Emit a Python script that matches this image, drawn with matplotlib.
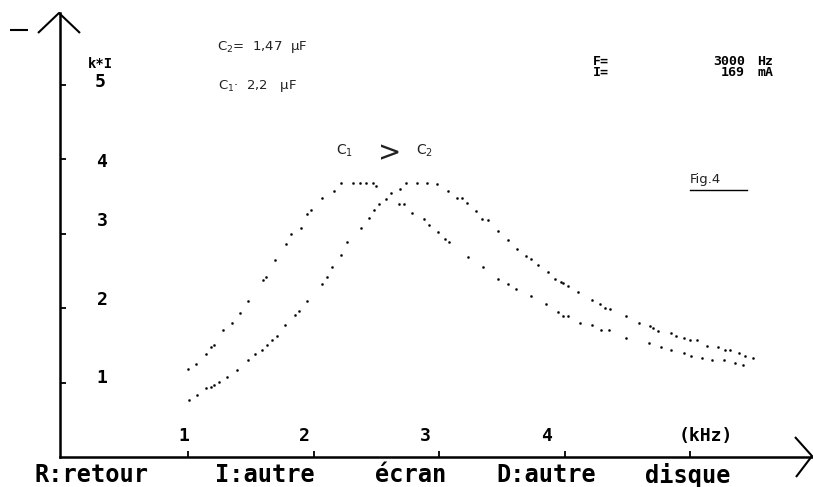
import matplotlib
matplotlib.use('Agg')
import matplotlib.pyplot as plt
from matplotlib.lines import Line2D

# frequency (kHz) and k*I readings, C1 = 2,2 uF, C2 = 1,47 uF
c1_f = [1.00, 1.06, 1.14, 1.18, 1.21, 1.28, 1.35, 1.41, 1.48, 1.60, 1.62, 1.69,
        1.78, 1.82, 1.90, 1.95, 1.98, 2.07, 2.16, 2.22, 2.31, 2.37, 2.42, 2.47,
        2.50, 2.68, 2.72, 2.78, 2.88, 2.92, 2.99, 3.05, 3.08, 3.23, 3.35, 3.47,
        3.55, 3.61, 3.73, 3.85, 3.95, 3.99, 4.03, 4.12, 4.22, 4.29, 4.35, 4.49,
        4.67, 4.77, 4.85, 4.95, 5.01, 5.09, 5.17, 5.27, 5.36, 5.42]
c1_v = [1.18, 1.25, 1.38, 1.47, 1.50, 1.70, 1.80, 1.93, 2.09, 2.37, 2.42, 2.64,
        2.86, 3.00, 3.08, 3.26, 3.31, 3.47, 3.57, 3.68, 3.68, 3.68, 3.68, 3.68,
        3.64, 3.40, 3.40, 3.28, 3.19, 3.12, 3.02, 2.92, 2.88, 2.68, 2.55, 2.39,
        2.32, 2.26, 2.16, 2.06, 1.94, 1.89, 1.89, 1.80, 1.77, 1.70, 1.70, 1.60,
        1.53, 1.47, 1.44, 1.40, 1.36, 1.33, 1.30, 1.30, 1.26, 1.23]

c2_f = [1.01, 1.07, 1.14, 1.18, 1.21, 1.25, 1.31, 1.39, 1.48, 1.53, 1.59, 1.63,
        1.67, 1.71, 1.77, 1.85, 1.88, 1.95, 2.07, 2.11, 2.15, 2.22, 2.27, 2.38,
        2.44, 2.48, 2.52, 2.58, 2.62, 2.69, 2.74, 2.82, 2.90, 2.98, 3.07, 3.14,
        3.18, 3.22, 3.29, 3.34, 3.39, 3.47, 3.55, 3.62, 3.69, 3.73, 3.79, 3.87,
        3.92, 3.97, 3.99, 4.03, 4.11, 4.22, 4.28, 4.32, 4.36, 4.49, 4.59, 4.68,
        4.70, 4.74, 4.85, 4.89, 4.95, 5.00, 5.05, 5.13, 5.22, 5.28, 5.32, 5.39,
        5.44, 5.50]
c2_v = [0.77, 0.83, 0.92, 0.94, 0.97, 1.01, 1.07, 1.17, 1.30, 1.38, 1.44, 1.51,
        1.57, 1.63, 1.77, 1.90, 1.96, 2.10, 2.32, 2.42, 2.55, 2.71, 2.88, 3.08,
        3.21, 3.31, 3.40, 3.46, 3.55, 3.60, 3.68, 3.68, 3.68, 3.67, 3.57, 3.48,
        3.48, 3.41, 3.30, 3.20, 3.18, 3.03, 2.91, 2.79, 2.70, 2.66, 2.58, 2.49,
        2.39, 2.35, 2.33, 2.29, 2.21, 2.11, 2.05, 2.00, 1.99, 1.89, 1.80, 1.76,
        1.73, 1.69, 1.66, 1.62, 1.60, 1.57, 1.57, 1.49, 1.47, 1.44, 1.44, 1.40,
        1.36, 1.33]

x_ticks = [1, 2, 3, 4, 5]
y_ticks = [1, 2, 3, 4, 5]

W, H = 813, 487


def px(x, y):
    # screen pixel -> figure fraction
    return x / W, 1 - y / H


fig = plt.figure(figsize=(W / 100, H / 100), dpi=100, facecolor='white')
ax = fig.add_axes([60 / W, (H - 457) / H, (812 - 60) / W, (457 - 13) / H])
ax.set_xlim(-0.02, 5.97)
ax.set_ylim(0, 5.96)
for s in ('top', 'right'):
    ax.spines[s].set_visible(False)
for s in ('left', 'bottom'):
    ax.spines[s].set_linewidth(1.8)
ax.set_xticks(x_ticks)
ax.set_yticks(y_ticks)
ax.tick_params(direction='in', length=4, width=1.3, labelbottom=False,
               labelleft=False)

ax.plot(c1_f, c1_v, ls='none', marker='o', ms=1.5, mew=0.3, color='black')
ax.plot(c2_f, c2_v, ls='none', marker='o', ms=1.5, mew=0.3, color='black')

# arrow heads and the little dash of the screen
lk = dict(color='black', lw=1.5, solid_capstyle='butt')
for xs, ys in [((38, 59, 80), (33, 13, 33)), ((795, 812, 796), (437, 456, 477)),
               ((10, 28), (30, 30))]:
    pts = [px(a, b) for a, b in zip(xs, ys)]
    fig.add_artist(Line2D([p[0] for p in pts], [p[1] for p in pts], **lk))

mono = dict(family=['DejaVu Sans Mono', 'DejaVu Sans'], weight='bold',
            color='black', va='center')
thin = dict(family='DejaVu Sans', color='#222222', va='center')

# y labels
fig.text(*px(100, 64), 'k*I', ha='center', fontsize=10, **mono)
for lab, (x, y) in zip(['5', '4', '3', '2', '1'],
                       [(100, 82), (101, 162), (102, 221), (102, 300), (102, 378)]):
    fig.text(*px(x, y), lab, ha='center', fontsize=13, **mono)

# x labels
for lab, x in zip(['1', '2', '3', '4'], [184, 304, 425, 546]):
    fig.text(*px(x, 436), lab, ha='center', fontsize=13, **mono)
fig.text(*px(706, 436), '(kHz)', ha='center', fontsize=13, **mono)

# bottom menu line
for word, x in [('R:retour', 91), ('I:autre', 265), ('écran', 411),
                ('D:autre', 546), ('disque', 688)]:
    fig.text(*px(x, 475), word, ha='center', fontsize=17, **mono)

# top right readout (two rows per block)
fig.text(*px(593, 67), 'F=\nI=', ha='left', fontsize=9.5, linespacing=0.85, **mono)
fig.text(*px(745, 67), '3000\n169', ha='right', fontsize=9.5, linespacing=0.85, **mono)
fig.text(*px(757, 67), 'Hz\nmA', ha='left', fontsize=9.5, linespacing=0.85, **mono)

# typed annotations
fig.text(*px(217, 47), 'C$_2$=  1,47  µF', ha='left', fontsize=9.5, **thin)
fig.text(*px(218, 86), 'C$_1$·  2,2   µF', ha='left', fontsize=9.5, **thin)
fig.text(*px(336, 151), 'C$_1$', ha='left', fontsize=10, **thin)
fig.text(*px(390, 153), '>', ha='center', fontsize=20, **thin)
fig.text(*px(416, 151), 'C$_2$', ha='left', fontsize=10, **thin)
fig.text(*px(690, 180), 'Fig.4', ha='left', fontsize=9.5, **thin)
fig.add_artist(Line2D([690 / W, 747 / W], [1 - 190 / H, 1 - 190 / H],
                      color='black', lw=1.0))

fig.savefig('out.png', dpi=100, facecolor='white')
